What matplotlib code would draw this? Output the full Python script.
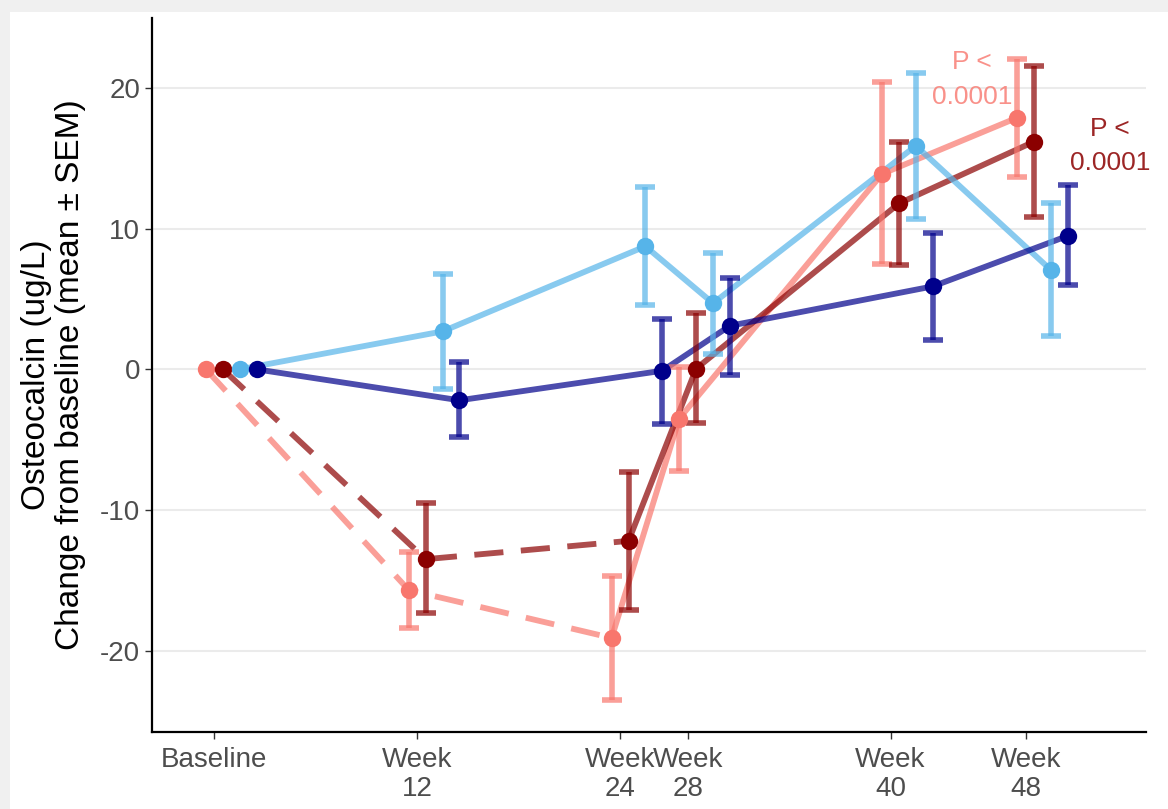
import numpy as np
import matplotlib
matplotlib.use("Agg")
from matplotlib import pyplot as plt
from matplotlib.patches import Rectangle

plt.rcParams['font.family'] = ['Liberation Sans', 'DejaVu Sans']

# visit weeks and tick labels
weeks = [0, 12, 24, 28, 40, 48]
tick_labels = ["Baseline", "Week\n12", "Week\n24", "Week\n28", "Week\n40", "Week\n48"]

# mean change from baseline and SEM bounds
salmon_mean = [0, -15.7, -19.1, -3.5, 13.9, 17.9]
salmon_hi = [0, -13.0, -14.7, 0.15, 20.4, 22.1]
salmon_lo = [0, -18.4, -23.5, -7.2, 7.5, 13.7]

darkred_mean = [0, -13.5, -12.2, 0.05, 11.8, 16.2]
darkred_hi = [0, -9.5, -7.3, 4.0, 16.2, 21.6]
darkred_lo = [0, -17.3, -17.1, -3.8, 7.4, 10.8]

lightblue_mean = [0, 2.7, 8.75, 4.7, 15.9, 7.05]
lightblue_hi = [0, 6.8, 13.0, 8.3, 21.1, 11.8]
lightblue_lo = [0, -1.4, 4.6, 1.1, 10.7, 2.4]

darkblue_mean = [0, -2.2, -0.1, 3.1, 5.9, 9.5]
darkblue_hi = [0, 0.5, 3.6, 6.5, 9.7, 13.1]
darkblue_lo = [0, -4.8, -3.9, -0.4, 2.1, 6.0]

series = [
    # mean, hi, lo, colour, dodge (weeks), dashed up to index
    (salmon_mean, salmon_hi, salmon_lo, "#F8766D", -0.5, 2),
    (darkred_mean, darkred_hi, darkred_lo, "#8B0000", 0.5, 2),
    (lightblue_mean, lightblue_hi, lightblue_lo, "#56B4E9", 1.5, 0),
    (darkblue_mean, darkblue_hi, darkblue_lo, "#00008B", 2.5, 0),
]

fig = plt.figure(figsize=(11.68, 8.09), dpi=100, facecolor="#f0f0f0")
fig.patches.append(Rectangle((10 / 1168, 0), 1, 1 - 12 / 809, transform=fig.transFigure,
                             facecolor="white", edgecolor="none", zorder=-5))
ax = fig.add_axes([0.130, 0.095, 0.851, 0.883])
ax.set_facecolor("white")

for mean, hi, lo, col, dodge, nd in series:
    x = np.array(weeks) + dodge
    mean = np.array(mean)
    # error bars
    lower = mean - np.array(lo)
    upper = np.array(hi) - mean
    ax.errorbar(x[1:], mean[1:], yerr=[lower[1:], upper[1:]], fmt="none",
                ecolor=col, elinewidth=4, capsize=7, capthick=4, alpha=0.7, zorder=3)
    # lines: dashed for early part of red groups
    if nd > 0:
        ax.plot(x[:nd + 1], mean[:nd + 1], color=col, lw=4.2, alpha=0.7,
                linestyle=(0, (5, 3)), solid_capstyle="butt", zorder=2)
        ax.plot(x[nd:], mean[nd:], color=col, lw=4.2, alpha=0.7, zorder=2)
    else:
        ax.plot(x, mean, color=col, lw=4.2, alpha=0.7, zorder=2)
    ax.plot(x, mean, "o", color=col, markersize=12.5, markeredgewidth=0, zorder=4)

ax.text(44.8, 20.6, "P <\n0.0001", color="#F8766D", alpha=0.8, fontsize=19,
        ha="center", va="center", linespacing=1.55)
ax.text(53.0, 15.9, "P <\n0.0001", color="#8B0000", alpha=0.85, fontsize=19,
        ha="center", va="center", linespacing=1.55)

ax.set_xlim(-3.7, 55.1)
ax.set_ylim(-25.8, 25.0)
ax.set_xticks(weeks)
ax.set_xticklabels(tick_labels, fontsize=20, color="#4D4D4D", linespacing=1.15)
ax.set_yticks([-20, -10, 0, 10, 20])
ax.set_yticklabels(["-20", "-10", "0", "10", "20"], fontsize=20, color="#4D4D4D")
ax.tick_params(axis="both", color="#333333", length=5, width=1)
ax.tick_params(axis="x", pad=6)
ax.yaxis.grid(True, color="#EBEBEB", lw=1.5)
ax.set_axisbelow(True)
for s in ["top", "right"]:
    ax.spines[s].set_visible(False)
for s in ["left", "bottom"]:
    ax.spines[s].set_linewidth(1.6)
    ax.spines[s].set_color("black")
ax.set_ylabel("Osteocalcin (ug/L)\nChange from baseline (mean ± SEM)", fontsize=24,
              color="black", labelpad=10, linespacing=1.1)

fig.savefig("out.png", dpi=100, facecolor=fig.get_facecolor())
